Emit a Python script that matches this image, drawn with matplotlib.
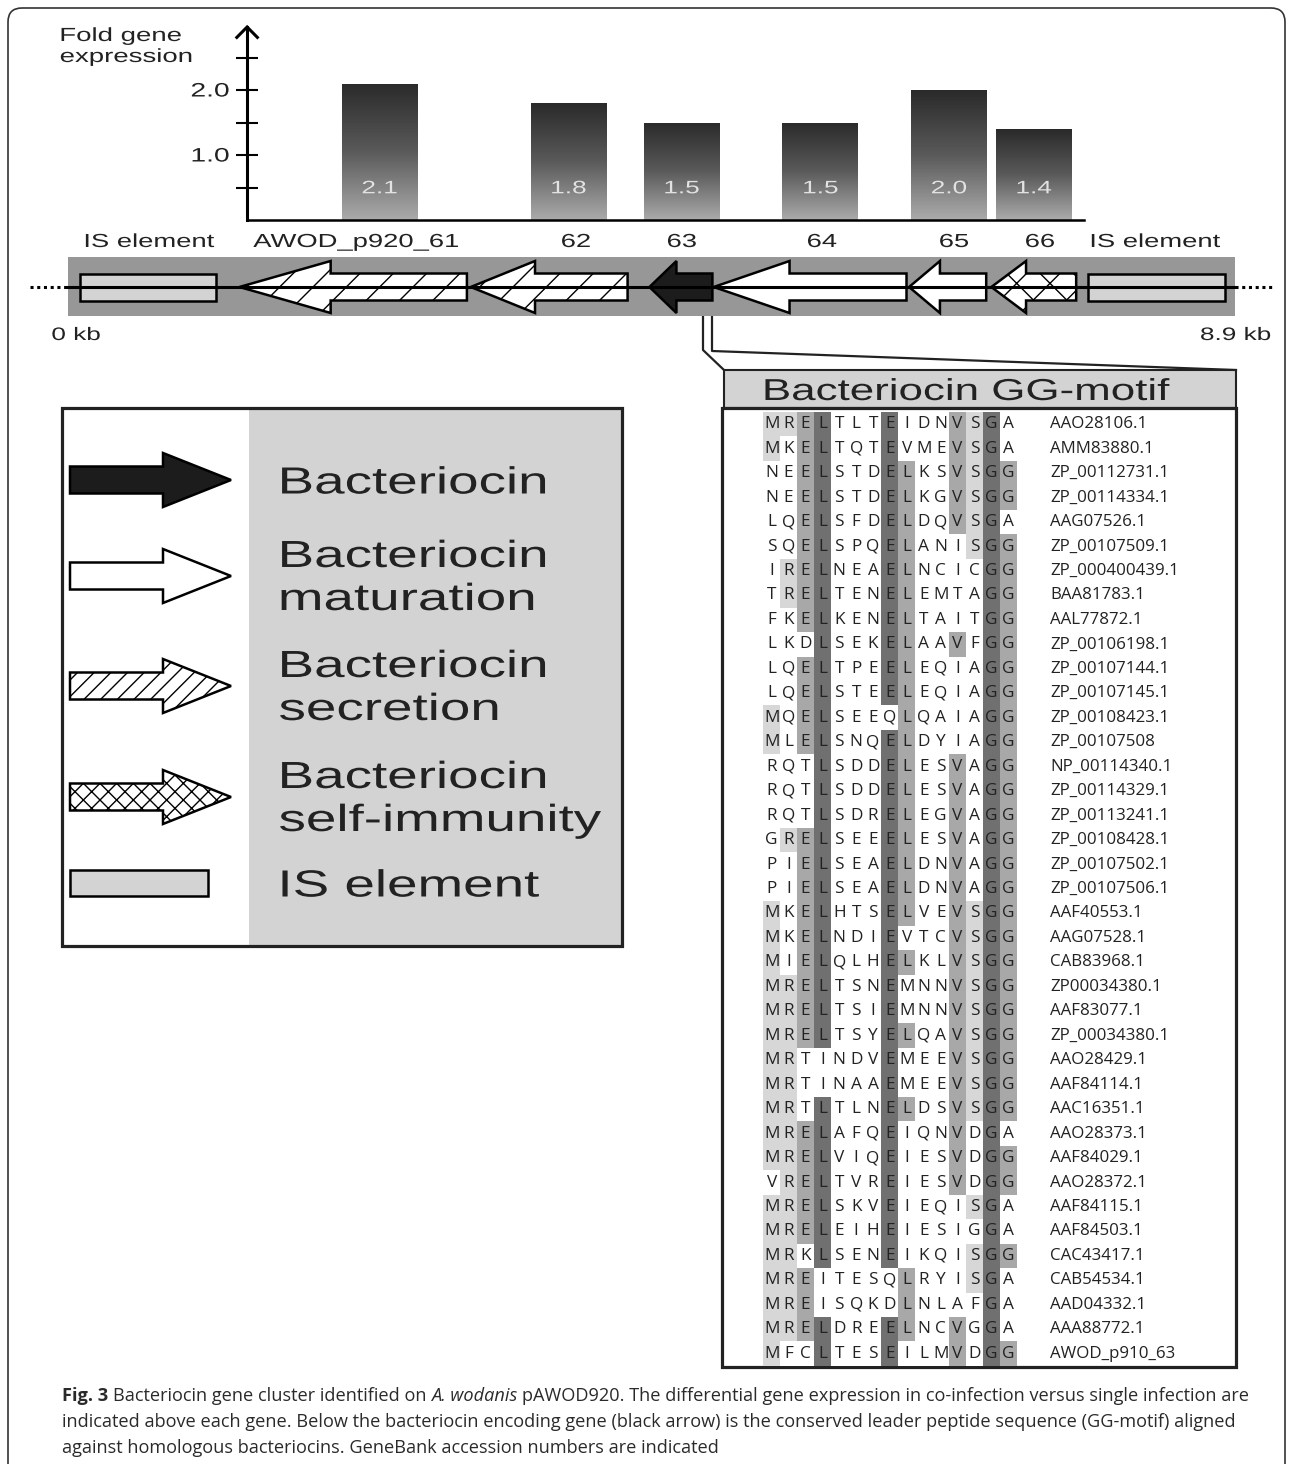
import matplotlib.pyplot as plt
import matplotlib.patches as mpatches
from matplotlib.colors import LinearSegmentedColormap
from matplotlib.patheffects import AbstractPathEffect
from matplotlib.transforms import Affine2D
import numpy as np

W, H = 1292, 1464
plt.rcParams['font.family'] = ['Liberation Sans', 'DejaVu Sans']
plt.rcParams['hatch.linewidth'] = 1.0

# ---- data ----
fold_genes = ['AWOD_p920_61', '62', '63', '64', '65', '66']
fold_change = [2.1, 1.8, 1.5, 1.5, 2.0, 1.4]

# genes on the plasmid (kb), all on the minus strand -> tip is the left end
gene_tip = [1.24, 3.04, 4.43, 4.93, 6.45, 7.09]
gene_end = [3.01, 4.26, 4.92, 6.43, 7.05, 7.75]
gene_role = ['secretion', 'secretion', 'bacteriocin', 'maturation', 'maturation', 'immunity']
is_start = [0.0, 7.84]
is_end = [1.06, 8.91]
plasmid_kb = 8.9

motif_seqs = [
    'MRELTLTEIDNVSGA', 'MKELTQTEVMEVSGA', 'NEELSTDELKSVSGG', 'NEELSTDELKGVSGG',
    'LQELSFDELDQVSGA', 'SQELSPQELANISGG', 'IRELNEAELNCICGG', 'TRELTENELEMTAGG',
    'FKELKENELTAITGG', 'LKDLSEKELAAVFGG', 'LQELTPEELEQIAGG', 'LQELSTEELEQIAGG',
    'MQELSEEQLQAIAGG', 'MLELSNQELDYIAGG', 'RQTLSDDELESVAGG', 'RQTLSDDELESVAGG',
    'RQTLSDRELEGVAGG', 'GRELSEEELESVAGG', 'PIELSEAELDNVAGG', 'PIELSEAELDNVAGG',
    'MKELHTSELVEVSGG', 'MKELNDIEVTCVSGG', 'MIELQLHELKLVSGG', 'MRELTSNEMNNVSGG',
    'MRELTSIEMNNVSGG', 'MRELTSYELQAVSGG', 'MRTINDVEMEEVSGG', 'MRTINAAEMEEVSGG',
    'MRTLTLNELDSVSGG', 'MRELAFQEIQNVDGA', 'MRELVIQEIESVDGG', 'VRELTVREIESVDGG',
    'MRELSKVEIEQISGA', 'MRELEIHEIESIGGA', 'MRKLSENEIKQISGG', 'MREITESQLRYISGA',
    'MREISQKDLNLAFGA', 'MRELDREELNCVGGA', 'MFCLTESEILMVDGG',
]
accessions = [
    'AAO28106.1', 'AMM83880.1', 'ZP_00112731.1', 'ZP_00114334.1',
    'AAG07526.1', 'ZP_00107509.1', 'ZP_000400439.1', 'BAA81783.1',
    'AAL77872.1', 'ZP_00106198.1', 'ZP_00107144.1', 'ZP_00107145.1',
    'ZP_00108423.1', 'ZP_00107508', 'NP_00114340.1', 'ZP_00114329.1',
    'ZP_00113241.1', 'ZP_00108428.1', 'ZP_00107502.1', 'ZP_00107506.1',
    'AAF40553.1', 'AAG07528.1', 'CAB83968.1', 'ZP00034380.1',
    'AAF83077.1', 'ZP_00034380.1', 'AAO28429.1', 'AAF84114.1',
    'AAC16351.1', 'AAO28373.1', 'AAF84029.1', 'AAO28372.1',
    'AAF84115.1', 'AAF84503.1', 'CAC43417.1', 'CAB54534.1',
    'AAD04332.1', 'AAA88772.1', 'AWOD_p910_63',
]
# conserved residue per alignment column -> shade level
conserved = {0: ('M', 'light'), 1: ('R', 'light'), 2: ('E', 'mid'), 3: ('L', 'dark'),
             7: ('E', 'dark'), 8: ('L', 'mid'), 11: ('V', 'mid'), 12: ('S', 'light'),
             13: ('G', 'dark'), 14: ('G', 'mid')}

# ---- layout ----
bar_kb = [2.33, 3.80, 4.68, 5.76, 6.76, 7.42]
bar_w = 0.59
head_len = [0.71, 0.50, 0.21, 0.59, 0.24, 0.27]
map_labels = ['IS element', 'AWOD_p920_61', '62', '63', '64', '65', '66', 'IS element']
map_label_kb = [0.537, 2.147, 3.859, 4.683, 5.772, 6.80, 7.469, 8.363]
styles = {'bacteriocin': dict(fc='#1c1c1c', hatch=None),
          'maturation': dict(fc='white', hatch=None),
          'secretion': dict(fc='white', hatch='/'),
          'immunity': dict(fc='white', hatch='x')}
level = {'light': 0.84, 'mid': 0.66, 'dark': 0.44}
INK = '#222222'


class Stretch(AbstractPathEffect):
    # the artwork is stretched wide, so widen the glyphs the same way
    def __init__(self, sx=1.45, anchor='center'):
        super().__init__()
        self.sx, self.anchor = sx, anchor

    def draw_path(self, renderer, gc, tpath, affine, rgbFace=None):
        ext = tpath.get_extents(affine)
        x0 = {'left': ext.x0, 'center': (ext.x0 + ext.x1) / 2, 'right': ext.x1}[self.anchor]
        tr = affine + Affine2D().translate(-x0, 0).scale(self.sx, 1).translate(x0, 0)
        renderer.draw_path(gc, tpath, tr, rgbFace)


def wide(anchor='center', sx=1.45):
    return [Stretch(sx, anchor)]


def arrow_verts(tail, tip, neck, cy, sh, hh):
    return [(tail, cy - sh), (neck, cy - sh), (neck, cy - hh), (tip, cy),
            (neck, cy + hh), (neck, cy + sh), (tail, cy + sh)]


def px_axes(x0, y0, x1, y1):
    a = fig.add_axes([x0 / W, 1 - y1 / H, (x1 - x0) / W, (y1 - y0) / H])
    a.set_facecolor('none')
    return a


fig = plt.figure(figsize=(W / 100, H / 100), dpi=100)
ax = fig.add_axes([0, 0, 1, 1])
ax.set_xlim(0, W)
ax.set_ylim(H, 0)
ax.axis('off')

# outer frame
ax.add_patch(mpatches.FancyBboxPatch((8, 8), 1277, 1480, boxstyle='round,pad=0,rounding_size=14',
                                     fc='none', ec='#333333', lw=1.2))

# ---- gene map ----
axm = px_axes(80, 230, 1224, 345)
axm.set_ylim(345, 230)
axm.axis('off')
axm.add_patch(mpatches.Rectangle((-0.093, 257), plasmid_kb + 0.178, 59, fc='#979797', ec='none',
                                 clip_on=False))
axm.plot([-0.093, 8.985], [287, 287], color='k', lw=2.2, clip_on=False)
axm.plot([-0.39, -0.093], [287, 287], color='k', lw=2.2, ls=(0, (1, 1.2)), clip_on=False)
axm.plot([8.985, 9.28], [287, 287], color='k', lw=2.2, ls=(0, (1, 1.2)), clip_on=False)
for s, e in zip(is_start, is_end):
    axm.add_patch(mpatches.Rectangle((s, 273.5), e - s, 27.5, fc='#d3d3d3', ec='k', lw=1.8,
                                     clip_on=False))
for tip, end, hl, role in zip(gene_tip, gene_end, head_len, gene_role):
    st = styles[role]
    axm.add_patch(mpatches.Polygon(arrow_verts(end, tip, tip + hl, 287, 13.5, 26), closed=True,
                                   fc=st['fc'], hatch=st['hatch'], ec='k', lw=1.8, clip_on=False))
for lab, x in zip(map_labels, map_label_kb):
    axm.text(x, 247, lab, ha='center', va='baseline', fontsize=13.6, color=INK,
             path_effects=wide())
axm.text(-0.03, 340, '0 kb', ha='center', va='baseline', fontsize=13, color=INK, path_effects=wide())
axm.text(8.99, 340, f'{plasmid_kb} kb', ha='center', va='baseline', fontsize=13, color=INK,
         path_effects=wide())
axm.set_xlim(0, plasmid_kb)

# ---- fold expression bars ----
px_per_unit = 65
axb = px_axes(80, 27, 1224, 220)
axis_kb, axis_end_kb = 1.30, 7.81
ytop = 193 / px_per_unit
cmap = LinearSegmentedColormap.from_list('bar', ['#ababab', '#5a5a5a', '#2a2a2a'])
grad = np.linspace(0, 1, 256).reshape(-1, 1)
bars = axb.bar(bar_kb, fold_change, width=bar_w, color='none', edgecolor='none')
for b, v in zip(bars, fold_change):
    x0 = b.get_x()
    im = axb.imshow(grad, extent=[x0, x0 + b.get_width(), 0, v], origin='lower', cmap=cmap,
                    aspect='auto', interpolation='bicubic')
    im.set_clip_path(b)
    axb.text(x0 + b.get_width() / 2, 0.48, f'{v:.1f}', ha='center', va='center', fontsize=13,
             color='#e2e2e2', path_effects=wide())
axb.set_xlim(0, plasmid_kb)
axb.set_ylim(0, ytop)
for sp in ['top', 'right']:
    axb.spines[sp].set_visible(False)
axb.spines['left'].set_position(('data', axis_kb))
axb.spines['left'].set_linewidth(2.2)
axb.spines['bottom'].set_bounds(axis_kb, axis_end_kb)
axb.spines['bottom'].set_linewidth(1.8)
axb.set_xticks([])
axb.set_yticks([0.5, 1.0, 1.5, 2.0, 2.5])
axb.set_yticklabels(['', '1.0', '', '2.0', ''])
axb.tick_params(axis='y', direction='inout', length=15.5, width=1.5, labelsize=14, pad=5,
                labelcolor=INK)
for t in axb.get_yticklabels():
    t.set_path_effects(wide('right'))
axb.plot([axis_kb - 0.08, axis_kb, axis_kb + 0.08], [ytop - 0.16, ytop, ytop - 0.16],
         color='k', lw=2.2, clip_on=False, solid_joinstyle='miter')
for k, line in enumerate(['Fold gene', 'expression']):
    ax.text(60, 41 + 21 * k, line, ha='left', va='baseline', fontsize=13.7, color=INK,
            path_effects=wide('left'))
axm.set_xlim(0, plasmid_kb)

# ---- legend ----
ax.add_patch(mpatches.Rectangle((62, 408), 560, 538, fc='white', ec='none'))
ax.add_patch(mpatches.Rectangle((249, 408), 373, 538, fc='#d3d3d3', ec='none'))
ax.add_patch(mpatches.Rectangle((62, 408), 560, 538, fc='none', ec=INK, lw=2.3, zorder=3))
legend_rows = [('bacteriocin', ['Bacteriocin'], 480),
               ('maturation', ['Bacteriocin', 'maturation'], 576),
               ('secretion', ['Bacteriocin', 'secretion'], 686),
               ('immunity', ['Bacteriocin', 'self-immunity'], 797)]
for role, lines, cy in legend_rows:
    st = styles[role]
    hatch = st['hatch'] * 2 if st['hatch'] else None
    ax.add_patch(mpatches.Polygon(arrow_verts(70, 231, 163, cy, 13.5, 27), closed=True,
                                  fc=st['fc'], hatch=hatch, ec='k', lw=1.8))
    base = [cy + 13.5] if len(lines) == 1 else [cy - 9, cy + 34]
    for line, yb in zip(lines, base):
        ax.text(279, yb, line, ha='left', va='baseline', fontsize=27.2, color=INK,
                path_effects=wide('left'))
ax.add_patch(mpatches.Rectangle((70, 870), 138, 26, fc='#d3d3d3', ec='k', lw=1.8))
ax.text(279, 896.5, 'IS element', ha='left', va='baseline', fontsize=27.2, color=INK,
        path_effects=wide('left'))

# ---- connector + alignment ----
ax.plot([703, 703, 724], [316, 350, 370], color=INK, lw=1.6)
ax.plot([712, 712, 1236], [316, 351, 370], color=INK, lw=1.6)
ax.add_patch(mpatches.Rectangle((724, 370), 512, 38, fc='#d3d3d3', ec=INK, lw=1.5))
ax.text(966, 400, 'Bacteriocin GG-motif', ha='center', va='baseline', fontsize=21.8, color=INK,
        path_effects=wide())
ax.add_patch(mpatches.Rectangle((722, 408), 514, 959, fc='white', ec=INK, lw=2.3))

n_rows, n_cols = len(motif_seqs), len(motif_seqs[0])
shade = np.ones((n_rows, n_cols))
for i, seq in enumerate(motif_seqs):
    for j, aa in enumerate(seq):
        if j in conserved and aa == conserved[j][0]:
            shade[i, j] = level[conserved[j][1]]
axa = px_axes(763.25, 412, 1016.75, 1366)
axa.imshow(shade, cmap='gray', vmin=0, vmax=1, aspect='auto', interpolation='nearest',
           extent=(-0.5, n_cols - 0.5, n_rows - 0.5, -0.5))
axa.axis('off')
for i, (seq, acc) in enumerate(zip(motif_seqs, accessions)):
    for j, aa in enumerate(seq):
        axa.text(j, i, aa, ha='center', va='center', family='Open Sans', fontsize=12.4, color=INK)
    axa.text(16.47, i, acc, ha='left', va='center', family='Open Sans', fontsize=12.2, color=INK,
             clip_on=False)
axa.set_xlim(-0.5, n_cols - 0.5)
axa.set_ylim(n_rows - 0.5, -0.5)

# ---- caption ----
cap_fs = 13.1
renderer = fig.canvas.get_renderer()
space_w = cap_fs / 0.72 * 0.26
caption = [
    (1401, [('Fig. 3', 'bold', 'normal'),
            ('Bacteriocin gene cluster identified on', 'normal', 'normal'),
            ('A. wodanis', 'normal', 'italic'),
            ('pAWOD920. The differential gene expression in co-infection versus single infection are',
             'normal', 'normal')]),
    (1427, [('indicated above each gene. Below the bacteriocin encoding gene (black arrow) is the '
             'conserved leader peptide sequence (GG-motif) aligned', 'normal', 'normal')]),
    (1453, [('against homologous bacteriocins. GeneBank accession numbers are indicated',
             'normal', 'normal')]),
]
for yb, pieces in caption:
    x = 62
    for s, wgt, sty in pieces:
        t = ax.text(x, yb, s, ha='left', va='baseline', family='Open Sans', fontsize=cap_fs,
                    fontweight=wgt, fontstyle=sty, color='#2a2a2a')
        x += t.get_window_extent(renderer).width + space_w

fig.savefig('out.png', dpi=100)
